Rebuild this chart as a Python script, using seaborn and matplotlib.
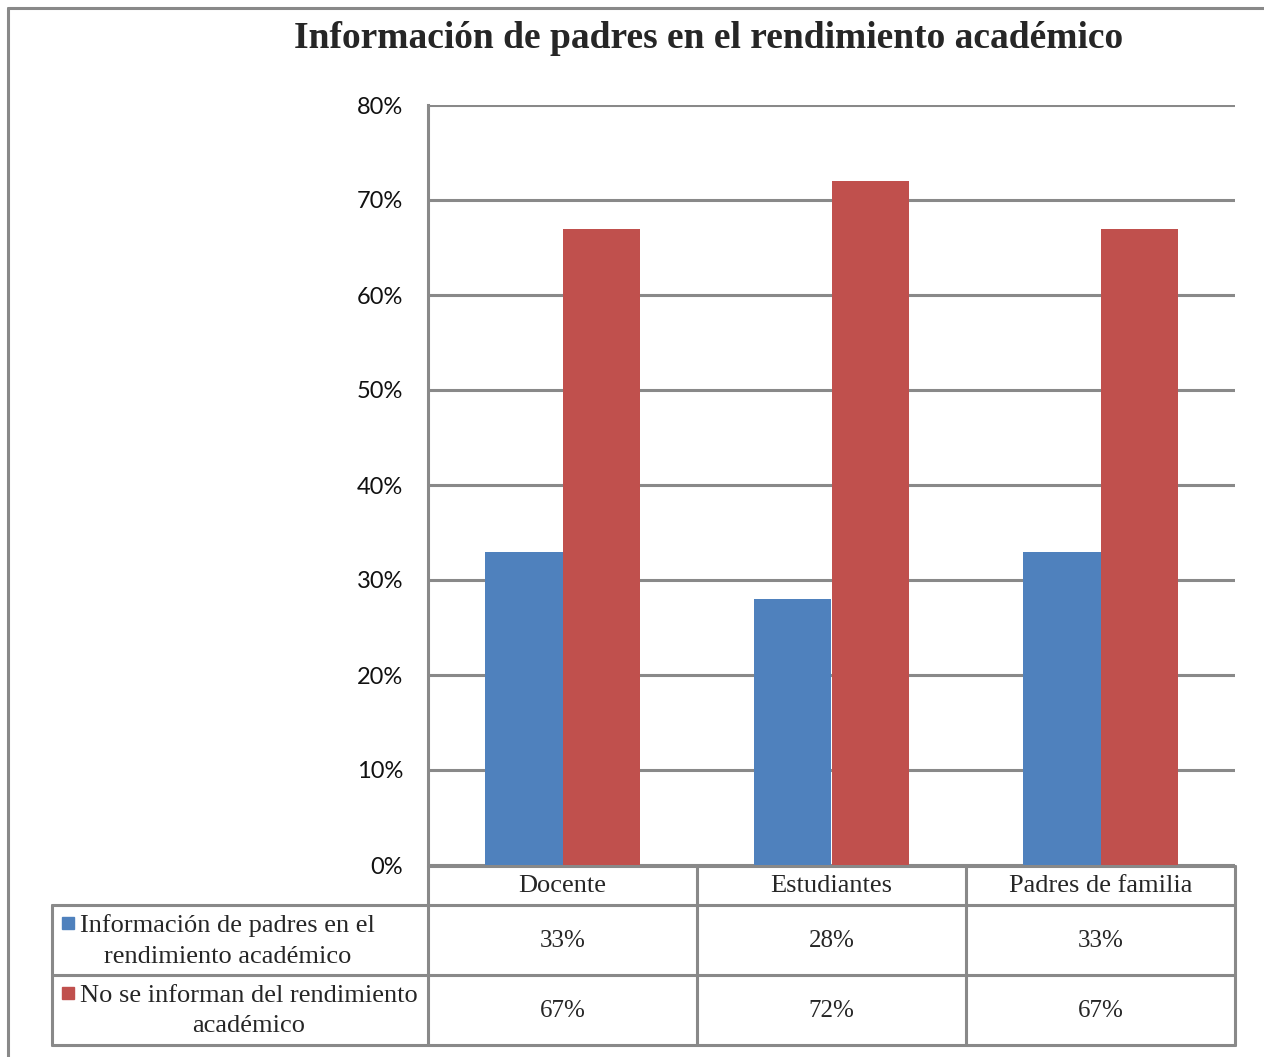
import matplotlib
matplotlib.use("Agg")
import matplotlib.pyplot as plt
import matplotlib.transforms as mtransforms
from matplotlib.patches import Rectangle
import seaborn as sns
import pandas as pd

# ---- data ----
categories = ["Docente", "Estudiantes", "Padres de familia"]
series_names = ["Información de padres en el\nrendimiento académico",
                "No se informan del rendimiento\nacadémico"]
informados = [0.33, 0.28, 0.33]
no_informados = [0.67, 0.72, 0.67]
title = "Información de padres en el rendimiento académico"
colors = ["#4F81BD", "#C0504D"]

df = pd.DataFrame({
    "categoria": categories * 2,
    "serie": [series_names[0]] * 3 + [series_names[1]] * 3,
    "valor": informados + no_informados,
})

sns.set_theme(style="white")
plt.rcParams["font.family"] = ["Liberation Serif", "DejaVu Serif"]

W, H = 1264, 1057
fig = plt.figure(figsize=(W / 100, H / 100), dpi=100)
fig.patch.set_facecolor("white")

grid_col = "#898989"
lw = 2.2

# overlay axes in pixel coordinates (for frame / table)
ov = fig.add_axes([0, 0, 1, 1])
ov.set_xlim(0, W)
ov.set_ylim(H, 0)
ov.axis("off")

# bar axes
x0, x1, ytop, ybot = 428, 1235, 105, 865
ax = fig.add_axes([x0 / W, 1 - ybot / H, (x1 - x0) / W, (ybot - ytop) / H])
sns.barplot(data=df, x="categoria", y="valor", hue="serie", order=categories,
            hue_order=series_names, palette=colors, width=0.575, gap=0,
            saturation=1, ax=ax, legend=False, edgecolor="none", linewidth=0)
ax.set_ylim(0, 0.8)
ax.set_xlim(-0.5, len(categories) - 0.5)
ax.set_yticks([i / 10 for i in range(9)])
ax.set_yticklabels([f"{i*10}%" for i in range(9)], family=["Lato", "DejaVu Sans"],
                   fontsize=17, color="#111111")
ax.tick_params(axis="y", length=0, pad=18)
ax.tick_params(axis="x", length=0, labelbottom=False)
ax.set_xlabel("")
ax.set_ylabel("")
ax.yaxis.grid(True, color=grid_col, linewidth=lw)
ax.set_axisbelow(True)
for s in ["top", "right", "bottom"]:
    ax.spines[s].set_visible(False)
ax.spines["left"].set_color(grid_col)
ax.spines["left"].set_linewidth(lw)
ax.patch.set_alpha(0)

# title
fig.text(0.5 * (293 + 1125) / W, 1 - 38 / H, title, ha="center", va="center",
         fontsize=27, fontweight="bold", family=["Liberation Serif", "DejaVu Serif"])

# outer frame
ov.plot([8, 8], [8, H + 5], color=grid_col, lw=lw, clip_on=False)
ov.plot([8, W + 5], [8, 8], color=grid_col, lw=lw, clip_on=False)

# ---- data table ----
bt = mtransforms.blended_transform_factory(ax.transData, ov.transData)
n = len(categories)
y_head_top, y_head_bot, y_r1_bot, y_r2_bot = 866, 905, 975, 1045
lab_left = 52

# horizontal lines
ov.plot([x0, x1], [y_head_top, y_head_top], color=grid_col, lw=lw)
for yy in [y_head_bot, y_r1_bot, y_r2_bot]:
    ov.plot([lab_left, x1], [yy, yy], color=grid_col, lw=lw)
# vertical lines
ov.plot([lab_left, lab_left], [y_head_bot, y_r2_bot], color=grid_col, lw=lw)
for i in range(n + 1):
    ax_x = i - 0.5
    ov.plot([ax_x, ax_x], [y_head_top, y_r2_bot], color=grid_col, lw=lw, transform=bt)

# header labels
for i, c in enumerate(categories):
    ov.text(i, (y_head_top + y_head_bot) / 2 + 1, c, transform=bt, ha="center",
            va="center", fontsize=19)
# values
rows = [informados, no_informados]
row_mid = [(y_head_bot + y_r1_bot) / 2, (y_r1_bot + y_r2_bot) / 2]
for r, vals in enumerate(rows):
    for i, v in enumerate(vals):
        ov.text(i, row_mid[r] + 1, f"{round(v * 100)}%", transform=bt, ha="center",
                va="center", fontsize=18)
    # legend key + label
    ov.add_patch(Rectangle((62, row_mid[r] - 23), 12, 12, color=colors[r]))
    ov.text(80, row_mid[r] + 1, series_names[r], ha="left", va="center",
            multialignment="center", fontsize=19, linespacing=1.5)

fig.savefig("out.png", dpi=100)
